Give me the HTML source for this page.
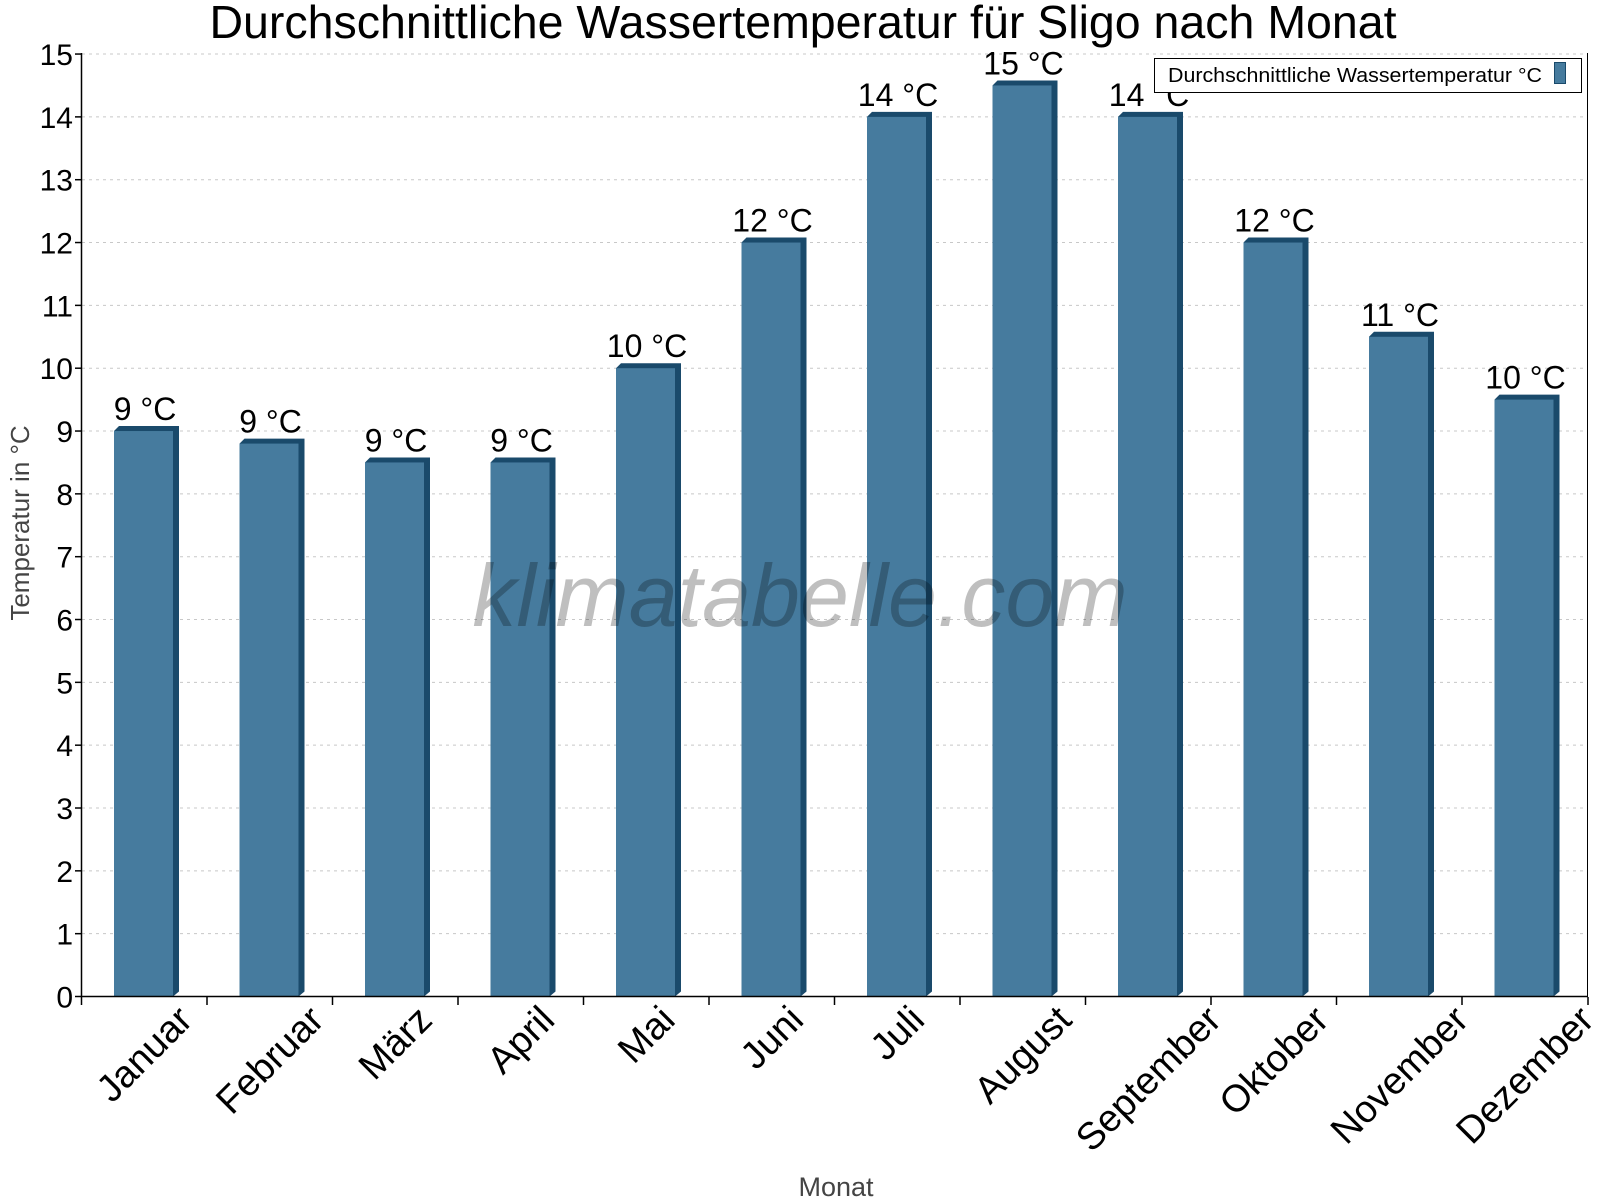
<!DOCTYPE html>
<html><head><meta charset="utf-8"><style>html,body{margin:0;padding:0;background:#fff}svg{display:block}</style></head><body>
<svg width="1600" height="1200" viewBox="0 0 1600 1200" xmlns="http://www.w3.org/2000/svg" font-family="Liberation Sans, Arial, sans-serif">
<rect width="1600" height="1200" fill="#fff"/>
<g id="grid" stroke="#c8c8c8" stroke-dasharray="3,4" stroke-width="1"></g>
<g id="bars"></g>
<text x="800" y="626" font-size="88" font-style="italic" fill="#000" fill-opacity="0.25" text-anchor="middle">klimatabelle.com</text>
<line x1="81.5" y1="53" x2="81.5" y2="997" stroke="#000" stroke-width="1.5"/>
<line x1="1587.5" y1="53" x2="1587.5" y2="997" stroke="#000" stroke-width="1"/>
<line x1="81.5" y1="996.5" x2="1588" y2="996.5" stroke="#000" stroke-width="1.5"/>
<g id="yt" font-size="30" text-anchor="end" fill="#000"></g>
<g id="xt" font-size="38" text-anchor="end" fill="#000"></g>
<text x="803" y="38" font-size="46.5" text-anchor="middle" fill="#000">Durchschnittliche Wassertemperatur für Sligo nach Monat</text>
<text transform="translate(29,523) rotate(-90)" font-size="26" text-anchor="middle" fill="#444">Temperatur in °C</text>
<text x="836" y="1196" font-size="27" text-anchor="middle" fill="#444">Monat</text>
<rect x="1154.5" y="58.5" width="427" height="34" fill="#fff" stroke="#000" stroke-width="1"/>
<text x="1168" y="82" font-size="20" fill="#000" textLength="374" lengthAdjust="spacingAndGlyphs">Durchschnittliche Wassertemperatur °C</text>
<rect x="1554.5" y="62.5" width="11" height="21" fill="#467b9e" stroke="#1a4a6b" stroke-width="1"/>
<script>
(function(){
var ns="http://www.w3.org/2000/svg";
function el(p,t,a,txt){var e=document.createElementNS(ns,t);for(var k in a)e.setAttribute(k,a[k]);if(txt!=null)e.textContent=txt;p.appendChild(e);return e;}
var base=996.5,unit=62.83,x0=81.5,cw=125.5;
var g=document.getElementById('grid'),yt=document.getElementById('yt'),xt=document.getElementById('xt'),b=document.getElementById('bars');
for(var v=0;v<=15;v++){var y=base-v*unit;if(v>0)el(g,'line',{x1:82,y1:y,x2:1587,y2:y});
el(yt,'line',{x1:75,y1:y,x2:82,y2:y,stroke:'#000','stroke-width':1.5});
el(yt,'text',{x:73,y:y+11},String(v));}
var names=["Januar","Februar","März","April","Mai","Juni","Juli","August","September","Oktober","November","Dezember"];
var vals=[9,8.8,8.5,8.5,10,12,14,14.5,14,12,10.5,9.5];
var labs=["9 °C","9 °C","9 °C","9 °C","10 °C","12 °C","14 °C","15 °C","14 °C","12 °C","11 °C","10 °C"];
for(var i=0;i<12;i++){var s=x0+i*cw;
el(xt,'line',{x1:s,y1:997,x2:s,y2:1005,stroke:'#000','stroke-width':1.5});
var fx=s+32.5,ty=base-vals[i]*unit;
el(b,'polygon',{points:[fx,ty,fx+5,ty-5,fx+65,ty-5,fx+65,base-5,fx+59,base].join(','),fill:'#1a4a6b'});
el(b,'rect',{x:fx,y:ty,width:59,height:base-ty,fill:'#467b9e'});
el(b,'text',{x:fx+31,y:ty-11,'font-size':32,'text-anchor':'middle',fill:'#000'},labs[i]);
var t=el(xt,'text',{},names[i]);
var L=120;try{L=t.getComputedTextLength();}catch(e){}
var cx=s+cw/2+L*0.354+9;
t.setAttribute('transform','translate('+cx+',1022) rotate(-45)');}
el(xt,'line',{x1:1588,y1:997,x2:1588,y2:1005,stroke:'#000','stroke-width':1.5});
})();
</script>
</svg>
</body></html>
